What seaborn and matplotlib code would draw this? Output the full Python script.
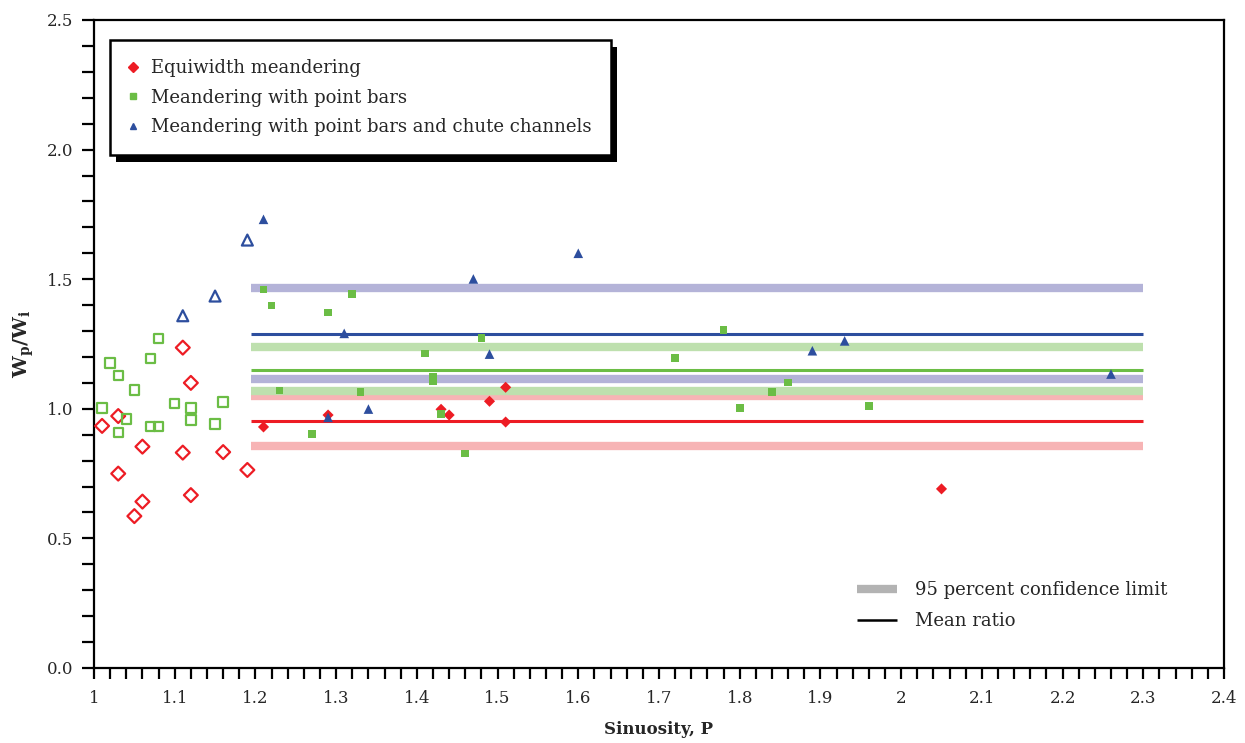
import numpy as np
import pandas as pd
import matplotlib
matplotlib.use('Agg')
import matplotlib.pyplot as plt
from matplotlib.lines import Line2D
from matplotlib.patches import Rectangle
from matplotlib.ticker import MultipleLocator, FuncFormatter
import seaborn as sns

# --- data ---
# Equiwidth meandering (open = P < 1.2, filled = P >= 1.2)
eq_open_x = [1.11, 1.12, 1.03, 1.01, 1.06, 1.11, 1.16, 1.19, 1.03, 1.12, 1.06, 1.05]
eq_open_y = [1.236, 1.100, 0.972, 0.934, 0.854, 0.831, 0.833, 0.764, 0.750, 0.667, 0.642, 0.586]
eq_fill_x = [1.21, 1.29, 1.43, 1.44, 1.51, 1.49, 1.51, 2.05]
eq_fill_y = [0.930, 0.976, 0.998, 0.976, 1.083, 1.029, 0.949, 0.691]

# Meandering with point bars
pb_open_x = [1.08, 1.07, 1.02, 1.03, 1.05, 1.01, 1.10, 1.12, 1.16, 1.04, 1.12, 1.07, 1.08, 1.03, 1.15]
pb_open_y = [1.272, 1.195, 1.176, 1.128, 1.073, 1.003, 1.021, 1.003, 1.026, 0.960, 0.957, 0.931, 0.931, 0.909, 0.941]
pb_fill_x = [1.21, 1.32, 1.22, 1.29, 1.48, 1.41, 1.42, 1.42, 1.23, 1.33, 1.43, 1.27, 1.46,
             1.78, 1.72, 1.86, 1.84, 1.80, 1.96]
pb_fill_y = [1.461, 1.442, 1.399, 1.372, 1.272, 1.214, 1.125, 1.105, 1.071, 1.064, 0.979, 0.902, 0.828,
             1.303, 1.195, 1.102, 1.064, 1.002, 1.010]

# Meandering with point bars and chute channels
ch_open_x = [1.19, 1.15, 1.11]
ch_open_y = [1.651, 1.435, 1.359]
ch_fill_x = [1.21, 1.47, 1.31, 1.49, 1.34, 1.29, 1.60, 1.93, 1.89, 2.26]
ch_fill_y = [1.731, 1.501, 1.291, 1.211, 0.999, 0.967, 1.600, 1.262, 1.224, 1.134]

groups = ['Equiwidth meandering', 'Meandering with point bars',
          'Meandering with point bars and chute channels']

# mean ratio and 95 percent confidence limits (lower, upper)
mean_ratio = [0.953, 1.148, 1.290]
conf_low = [0.855, 1.069, 1.114]
conf_high = [1.050, 1.240, 1.467]
line_start, line_end = 1.195, 2.30

# --- styling ---
colors = ['#ED1C24', '#6BBD45', '#2D4E9E']
band_colors = ['#F7B4B5', '#BEE0AE', '#B4B3D8']
markers = ['D', 's', '^']
size_fill = [32, 30, 48]
size_open = [50, 46, 62]

sns.set_style('white')
plt.rcParams['font.family'] = ['DejaVu Serif']
plt.rcParams['mathtext.fontset'] = 'dejavuserif'

fig = plt.figure(figsize=(12.45, 7.43), dpi=100)
ax = fig.add_axes([94 / 1245, 75 / 743, 1130 / 1245, 648 / 743])

rows = []
for g, (ox, oy, fx, fy) in zip(groups, [(eq_open_x, eq_open_y, eq_fill_x, eq_fill_y),
                                       (pb_open_x, pb_open_y, pb_fill_x, pb_fill_y),
                                       (ch_open_x, ch_open_y, ch_fill_x, ch_fill_y)]):
    rows += [(g, x, y, False) for x, y in zip(ox, oy)]
    rows += [(g, x, y, True) for x, y in zip(fx, fy)]
df = pd.DataFrame(rows, columns=['group', 'P', 'ratio', 'filled'])

# confidence bands and mean lines
for i in range(3):
    for yv in (conf_low[i], conf_high[i]):
        ax.hlines(yv, line_start, line_end, color=band_colors[i], lw=6, zorder=1)
for i in range(3):
    ax.hlines(mean_ratio[i], line_start, line_end, color=colors[i], lw=2.2, zorder=2)

for i, g in enumerate(groups):
    sub = df[df.group == g]
    sns.scatterplot(data=sub[sub.filled], x='P', y='ratio', marker=markers[i], s=size_fill[i],
                    color=colors[i], edgecolor='none', ax=ax, zorder=3)
    sns.scatterplot(data=sub[~sub.filled], x='P', y='ratio', marker=markers[i], s=size_open[i],
                    facecolor='none', edgecolor=colors[i], linewidth=1.6, ax=ax, zorder=3)

ax.set_xlim(1, 2.4)
ax.set_ylim(0, 2.5)
ax.xaxis.set_major_locator(MultipleLocator(0.1))
ax.xaxis.set_minor_locator(MultipleLocator(0.02))
ax.yaxis.set_major_locator(MultipleLocator(0.5))
ax.yaxis.set_minor_locator(MultipleLocator(0.1))
ax.xaxis.set_major_formatter(FuncFormatter(lambda v, p: '%g' % round(v, 2)))
ax.yaxis.set_major_formatter(FuncFormatter(lambda v, p: '%.1f' % v))
ax.tick_params(axis='both', which='both', direction='out', width=1.6, color='black',
               labelsize=12, bottom=True, left=True)
ax.tick_params(axis='x', which='both', length=8, pad=8)
ax.tick_params(axis='y', which='both', length=9, pad=6)
for s in ax.spines.values():
    s.set_color('black')
    s.set_linewidth(1.6)

ax.set_xlabel('Sinuosity, P', fontsize=12, fontweight='bold', labelpad=10)
ax.set_ylabel(r'$\mathbf{W_p/W_i}$', fontsize=14, labelpad=8)

# group legend with solid shadow
h1 = [Line2D([], [], ls='none', marker=markers[i], color=colors[i], markersize=5) for i in range(3)]
leg1 = ax.legend(h1, groups, loc='upper left', bbox_to_anchor=(0.006, 0.983), fontsize=13,
                 frameon=True, fancybox=False, edgecolor='black', framealpha=1,
                 handlelength=0.5, handletextpad=0.75, borderpad=1.05, labelspacing=0.65)
leg1.get_frame().set_linewidth(1.8)
leg1.set_zorder(10)
ax.add_artist(leg1)

h2 = [Line2D([], [], color='#B3B3B3', lw=6, solid_capstyle='butt'),
      Line2D([], [], color='black', lw=1.8, solid_capstyle='butt')]
leg2 = ax.legend(h2, ['95 percent confidence limit', 'Mean ratio'], loc='lower right',
                 bbox_to_anchor=(0.964, 0.033), fontsize=13, frameon=False,
                 handlelength=2.2, handletextpad=1.0, labelspacing=0.75)

fig.canvas.draw()
bb = leg1.get_window_extent()
shadow = Rectangle((bb.x0 + 6, bb.y0 - 7), bb.width, bb.height, transform=None,
                   facecolor='black', edgecolor='none', zorder=9, clip_on=False)
ax.add_artist(shadow)

fig.savefig('out.png', dpi=100)
